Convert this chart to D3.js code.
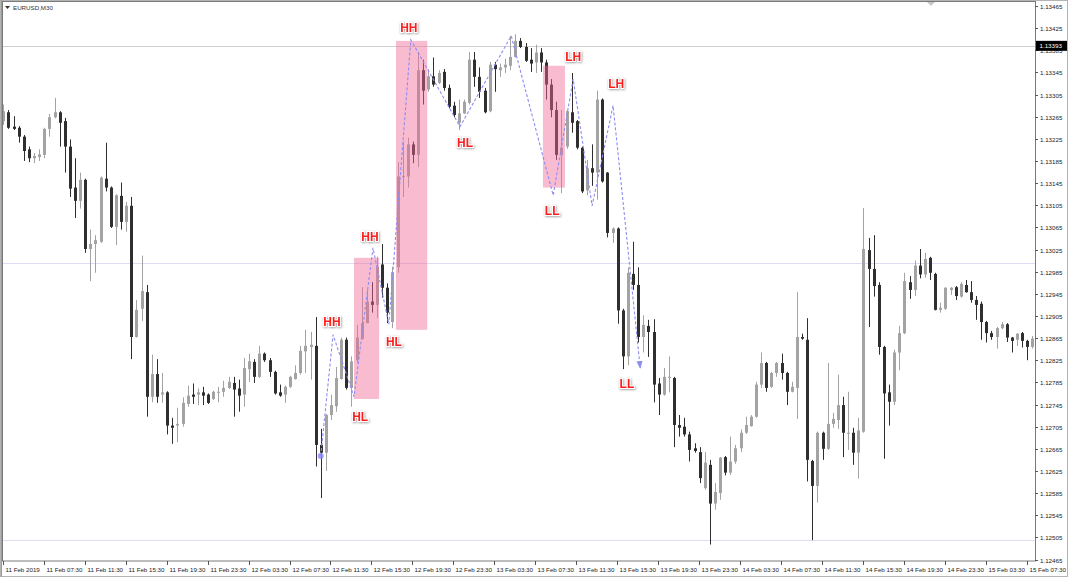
<!DOCTYPE html>
<html><head><meta charset="utf-8">
<script src="https://cdn.jsdelivr.net/npm/d3@7"></script>
<style>body{margin:0;background:#fff}svg{display:block}</style>
</head><body><svg id="c" width="1068" height="577"></svg>
<script>
const symbolTitle = "EURUSD,M30";
const open = [1.13257,1.13273,1.13247,1.13245,1.13229,1.13206,1.13190,1.13192,1.13196,1.13243,
1.13264,1.13273,1.13257,1.13211,1.13137,1.13113,1.13151,1.13026,1.13035,1.13039,
1.13153,1.13137,1.13066,1.13122,1.13075,1.13104,1.12867,1.12918,1.12948,1.12759,
1.12800,1.12763,1.12767,1.12707,1.12707,1.12710,1.12746,1.12763,1.12763,1.12767,
1.12763,1.12755,1.12767,1.12768,1.12775,1.12784,1.12774,1.12763,1.12809,1.12822,
1.12795,1.12837,1.12825,1.12804,1.12767,1.12763,1.12777,1.12791,1.12802,1.12841,
1.12849,1.12851,1.12672,1.12658,1.12726,1.12742,1.12791,1.12862,1.12775,1.12825,
1.12864,1.12892,1.12931,1.12925,1.12998,1.12956,1.12894,1.12993,1.13157,1.13157,
1.13215,1.13196,1.13349,1.13314,1.13338,1.13326,1.13346,1.13317,1.13285,1.13254,
1.13271,1.13290,1.13368,1.13337,1.13312,1.13275,1.13359,1.13349,1.13354,1.13357,
1.13373,1.13402,1.13391,1.13368,1.13363,1.13381,1.13363,1.13323,1.13277,1.13196,
1.13211,1.13273,1.13257,1.13209,1.13132,1.13172,1.13164,1.13296,1.13164,1.13055,
1.13063,1.12915,1.12832,1.12981,1.12961,1.12867,1.12887,1.12876,1.12783,1.12763,
1.12793,1.12793,1.12708,1.12705,1.12691,1.12666,1.12659,1.12594,1.12636,1.12566,
1.12585,1.12650,1.12622,1.12642,1.12666,1.12694,1.12706,1.12723,1.12781,1.12820,
1.12777,1.12802,1.12820,1.12802,1.12768,1.12775,1.12867,1.12862,1.12643,1.12598,
1.12694,1.12665,1.12710,1.12717,1.12744,1.12692,1.12694,1.12658,1.12696,1.13024,
1.12990,1.12961,1.12849,1.12767,1.12750,1.12839,1.12874,1.12966,1.12952,1.12996,
1.12980,1.13010,1.12981,1.12916,1.12918,1.12952,1.12957,1.12940,1.12961,1.12948,
1.12934,1.12927,1.12894,1.12874,1.12867,1.12883,1.12890,1.12866,1.12862,1.12874,
1.12860,1.12849];
const high = [1.13287,1.13277,1.13266,1.13248,1.13232,1.13211,1.13199,1.13206,1.13245,1.13270,
1.13299,1.13275,1.13263,1.13224,1.13190,1.13164,1.13153,1.13061,1.13051,1.13157,
1.13218,1.13139,1.13125,1.13146,1.13111,1.13120,1.12934,1.13014,1.12961,1.12835,
1.12827,1.12802,1.12769,1.12721,1.12739,1.12758,1.12779,1.12783,1.12774,1.12777,
1.12765,1.12770,1.12777,1.12788,1.12795,1.12795,1.12790,1.12829,1.12837,1.12827,
1.12851,1.12839,1.12829,1.12806,1.12781,1.12779,1.12797,1.12816,1.12851,1.12880,
1.12876,1.12903,1.12701,1.12728,1.12763,1.12813,1.12866,1.12866,1.12832,1.12889,
1.12957,1.12952,1.12966,1.13012,1.13035,1.12964,1.12994,1.13183,1.13220,1.13227,
1.13220,1.13382,1.13368,1.13351,1.13372,1.13349,1.13351,1.13323,1.13292,1.13296,
1.13296,1.13382,1.13382,1.13354,1.13317,1.13364,1.13364,1.13361,1.13370,1.13411,
1.13414,1.13407,1.13398,1.13389,1.13395,1.13389,1.13368,1.13333,1.13292,1.13277,
1.13277,1.13344,1.13259,1.13211,1.13187,1.13215,1.13312,1.13298,1.13165,1.13065,
1.13065,1.12918,1.12993,1.13039,1.12993,1.12906,1.12898,1.12899,1.12793,1.12811,
1.12832,1.12795,1.12726,1.12721,1.12696,1.12675,1.12668,1.12659,1.12645,1.12603,
1.12650,1.12652,1.12687,1.12672,1.12700,1.12723,1.12726,1.12786,1.12839,1.12822,
1.12804,1.12822,1.12837,1.12804,1.12786,1.12948,1.12873,1.12901,1.12645,1.12696,
1.12696,1.12820,1.12730,1.12799,1.12759,1.12768,1.12703,1.12721,1.13100,1.13046,
1.13051,1.12966,1.12851,1.12781,1.12844,1.12887,1.12983,1.12977,1.13005,1.13026,
1.13019,1.13012,1.12983,1.12929,1.12957,1.12957,1.12959,1.12966,1.12970,1.12968,
1.12941,1.12931,1.12896,1.12878,1.12885,1.12894,1.12892,1.12867,1.12874,1.12876,
1.12862,1.12869];
const low = [1.13250,1.13243,1.13241,1.13218,1.13185,1.13183,1.13181,1.13185,1.13190,1.13229,
1.13262,1.13211,1.13164,1.13120,1.13082,1.13099,1.13019,1.12968,1.12983,1.13037,
1.13130,1.13064,1.13033,1.13061,1.13057,1.12827,1.12866,1.12896,1.12723,1.12749,
1.12748,1.12748,1.12691,1.12674,1.12677,1.12705,1.12741,1.12746,1.12744,1.12744,
1.12746,1.12753,1.12749,1.12759,1.12773,1.12723,1.12732,1.12741,1.12786,1.12784,
1.12793,1.12822,1.12795,1.12763,1.12759,1.12748,1.12775,1.12790,1.12799,1.12802,
1.12790,1.12633,1.12576,1.12625,1.12717,1.12732,1.12790,1.12772,1.12741,1.12820,
1.12862,1.12892,1.12911,1.12901,1.12938,1.12892,1.12883,1.12983,1.13120,1.13137,
1.13181,1.13174,1.13287,1.13310,1.13319,1.13324,1.13312,1.13280,1.13264,1.13241,
1.13270,1.13287,1.13319,1.13299,1.13271,1.13273,1.13310,1.13337,1.13344,1.13349,
1.13372,1.13389,1.13364,1.13346,1.13344,1.13346,1.13296,1.13264,1.13187,1.13127,
1.13207,1.13236,1.13206,1.13127,1.13123,1.13140,1.13115,1.13146,1.13047,1.13037,
1.12891,1.12809,1.12816,1.12952,1.12857,1.12839,1.12831,1.12749,1.12726,1.12761,
1.12767,1.12668,1.12687,1.12687,1.12642,1.12658,1.12603,1.12591,1.12492,1.12555,
1.12573,1.12617,1.12618,1.12638,1.12659,1.12692,1.12705,1.12721,1.12775,1.12768,
1.12775,1.12795,1.12790,1.12744,1.12767,1.12719,1.12862,1.12606,1.12500,1.12568,
1.12645,1.12663,1.12703,1.12701,1.12650,1.12663,1.12636,1.12611,1.12694,1.12885,
1.12940,1.12835,1.12647,1.12707,1.12744,1.12807,1.12872,1.12936,1.12941,1.12973,
1.12974,1.12970,1.12915,1.12911,1.12916,1.12943,1.12934,1.12938,1.12947,1.12929,
1.12898,1.12862,1.12857,1.12862,1.12846,1.12881,1.12858,1.12839,1.12851,1.12848,
1.12825,1.12846];
const close = [1.13275,1.13245,1.13243,1.13229,1.13203,1.13190,1.13194,1.13197,1.13243,1.13264,
1.13273,1.13254,1.13211,1.13135,1.13113,1.13151,1.13026,1.13035,1.13042,1.13155,
1.13137,1.13066,1.13123,1.13075,1.13104,1.12867,1.12916,1.12950,1.12759,1.12800,
1.12759,1.12767,1.12707,1.12703,1.12710,1.12748,1.12761,1.12759,1.12767,1.12761,
1.12748,1.12768,1.12768,1.12775,1.12786,1.12772,1.12761,1.12811,1.12823,1.12795,
1.12837,1.12825,1.12804,1.12765,1.12761,1.12777,1.12795,1.12802,1.12842,1.12851,
1.12853,1.12672,1.12658,1.12726,1.12744,1.12793,1.12862,1.12775,1.12823,1.12866,
1.12892,1.12931,1.12925,1.12994,1.12956,1.12911,1.12984,1.13157,1.13158,1.13215,
1.13196,1.13349,1.13312,1.13338,1.13323,1.13344,1.13317,1.13283,1.13268,1.13271,
1.13292,1.13368,1.13337,1.13310,1.13273,1.13359,1.13351,1.13354,1.13359,1.13373,
1.13402,1.13391,1.13366,1.13361,1.13381,1.13363,1.13323,1.13277,1.13196,1.13209,
1.13275,1.13254,1.13209,1.13130,1.13172,1.13164,1.13296,1.13148,1.13055,1.13063,
1.12915,1.12832,1.12983,1.12961,1.12867,1.12889,1.12876,1.12781,1.12763,1.12795,
1.12795,1.12708,1.12703,1.12691,1.12663,1.12661,1.12612,1.12640,1.12566,1.12587,
1.12649,1.12622,1.12642,1.12666,1.12694,1.12708,1.12723,1.12781,1.12820,1.12775,
1.12802,1.12820,1.12802,1.12768,1.12777,1.12867,1.12864,1.12645,1.12598,1.12694,
1.12665,1.12710,1.12719,1.12744,1.12694,1.12694,1.12658,1.12698,1.13026,1.12990,
1.12959,1.12849,1.12765,1.12750,1.12839,1.12874,1.12968,1.12952,1.12996,1.12980,
1.13008,1.12983,1.12916,1.12920,1.12956,1.12956,1.12941,1.12963,1.12948,1.12934,
1.12925,1.12894,1.12874,1.12867,1.12883,1.12890,1.12866,1.12860,1.12873,1.12860,
1.12849,1.12864];

const priceTicks = ["1.13465","1.13425","1.13385","1.13345","1.13305","1.13265","1.13225","1.13185","1.13145","1.13105","1.13065","1.13025","1.12985","1.12945","1.12905","1.12865","1.12825","1.12785","1.12745","1.12705","1.12665","1.12625","1.12585","1.12545","1.12505","1.12465"];
const timeLabels = ["11 Feb 2019","11 Feb 07:30","11 Feb 11:30","11 Feb 15:30","11 Feb 19:30","11 Feb 23:30","12 Feb 03:30","12 Feb 07:30","12 Feb 11:30","12 Feb 15:30","12 Feb 19:30","12 Feb 23:30","13 Feb 03:30","13 Feb 07:30","13 Feb 11:30","13 Feb 15:30","13 Feb 19:30","13 Feb 23:30","14 Feb 03:30","14 Feb 07:30","14 Feb 11:30","14 Feb 15:30","14 Feb 19:30","14 Feb 23:30","15 Feb 03:30","15 Feb 07:30"];
const timeLabelBars = [0,8,16,24,32,40,48,56,64,72,80,88,96,104,112,120,128,136,144,152,160,168,176,184,192,200];

const hLevels = [1.13393, 1.13000, 1.12500];
const hColors = ["#cfcfcf", "#dcdcf4", "#dcdcf4"];
const currentPrice = "1.13393";

const zzBar = [62, 64.4, 68.5, 72.2, 75.3, 79.6, 89.2, 99.2, 107.4, 111.3, 115, 119.1, 124.4];
const zzPrice = [1.12652, 1.12871, 1.12759, 1.13028, 1.12890, 1.13404, 1.13247, 1.13411, 1.13123, 1.13333, 1.13104, 1.13285, 1.12811];

const boxStart = [68.5, 76.7, 105.4];
const boxEnd = [73.4, 82.8, 109.7];
const boxTop = [1.13010, 1.13402, 1.13357];
const boxBottom = [1.12755, 1.12880, 1.13137];

const labelText = ["HH","HL","HH","HL","HH","HL","LL","LH","LH","LL"];
const labelBar = [64.2, 69.7, 71.6, 76.3, 79.2, 90.2, 107.2, 111.3, 119.7, 121.8];
const labelPrice = [1.12894, 1.12723, 1.13049, 1.12858, 1.13426, 1.13218, 1.13095, 1.13373, 1.13324, 1.12783];

const svg = d3.select("#c");
const P = {l: 2, r: 1035, t: 2, b: 561};
const n = open.length;
const x = d3.scaleLinear().domain([0, n - 1]).range([3.3, 3.3 + 5.12 * (n - 1)]);
const y = d3.scaleLinear().domain([1.12465, 1.13465]).range([559.5, 6]);
const FONT = "'Liberation Sans', Arial, sans-serif";

svg.append("rect").attr("width", 1068).attr("height", 577).attr("fill", "#fff");
const defs = svg.append("defs");
defs.append("clipPath").attr("id", "clip").append("rect")
  .attr("x", P.l).attr("y", P.t).attr("width", P.r - P.l).attr("height", P.b - P.t);
const f = defs.append("filter").attr("id", "sh").attr("x", "-30%").attr("y", "-40%").attr("width", "160%").attr("height", "180%");
f.append("feDropShadow").attr("dx", 0.6).attr("dy", 0.8).attr("stdDeviation", 1.3).attr("flood-color", "#777").attr("flood-opacity", 0.75);
defs.append("marker").attr("id", "arr").attr("viewBox", "0 0 10 10").attr("refX", 9).attr("refY", 5)
  .attr("markerWidth", 7).attr("markerHeight", 7).attr("orient", "auto")
  .append("path").attr("d", "M0,1 L10,5 L0,9 z").attr("fill", "#8c8cf5");

const g = svg.append("g").attr("clip-path", "url(#clip)");

// horizontal lines
g.selectAll("line.h").data(hLevels).join("line").attr("class", "h")
  .attr("x1", P.l).attr("x2", P.r)
  .attr("y1", d => Math.round(y(d)) + 0.5).attr("y2", d => Math.round(y(d)) + 0.5)
  .attr("stroke", (d, i) => hColors[i]).attr("stroke-width", 1);

// candles
const idx = d3.range(n);
const bull = i => close[i] >= open[i];
const col = i => bull(i) ? "#a3a3a3" : "#2f2f2f";
g.selectAll("line.w").data(idx).join("line").attr("class", "w")
  .attr("x1", i => Math.round(x(i)) + 0.5).attr("x2", i => Math.round(x(i)) + 0.5)
  .attr("y1", i => y(high[i])).attr("y2", i => y(low[i]))
  .attr("stroke", col).attr("stroke-width", 1);
g.selectAll("rect.b").data(idx).join("rect").attr("class", "b")
  .attr("x", i => Math.round(x(i)) - 1)
  .attr("width", 3)
  .attr("y", i => y(Math.max(open[i], close[i])))
  .attr("height", i => Math.max(1, Math.abs(y(open[i]) - y(close[i]))))
  .attr("fill", col);

// pink boxes
g.selectAll("rect.box").data(d3.range(boxStart.length)).join("rect").attr("class", "box")
  .attr("x", i => x(boxStart[i])).attr("width", i => x(boxEnd[i]) - x(boxStart[i]))
  .attr("y", i => y(boxTop[i])).attr("height", i => y(boxBottom[i]) - y(boxTop[i]))
  .attr("fill", "rgb(239,104,148)").attr("fill-opacity", 0.45);

// zigzag
const zz = zzBar.map((b, i) => [x(b), y(zzPrice[i])]);
g.append("path").attr("d", d3.line()(zz)).attr("fill", "none")
  .attr("stroke", "#8c8cf5").attr("stroke-width", 1.1).attr("stroke-dasharray", "3,2")
  .attr("marker-end", "url(#arr)");
g.append("circle").attr("cx", zz[0][0]).attr("cy", zz[0][1]).attr("r", 3)
  .attr("fill", "#8c8cf5").attr("fill-opacity", 0.85);

// labels
g.selectAll("text.lab").data(d3.range(labelText.length)).join("text").attr("class", "lab")
  .attr("x", i => x(labelBar[i])).attr("y", i => y(labelPrice[i]))
  .attr("dy", "0.36em").attr("text-anchor", "middle")
  .attr("font-family", FONT).attr("font-weight", "bold").attr("font-size", 12)
  .attr("fill", "#ff1e1e").attr("stroke", "#fff").attr("stroke-width", 2).attr("paint-order", "stroke")
  .attr("filter", "url(#sh)")
  .text(i => labelText[i]);

// frame
svg.append("rect").attr("x", 0.5).attr("y", 0.5).attr("width", 1067).attr("height", 576)
  .attr("fill", "none").attr("stroke", "#b4b4b4");
svg.append("line").attr("x1", 1.5).attr("x2", 1.5).attr("y1", 0).attr("y2", 577).attr("stroke", "#9a9a9a");
svg.append("rect").attr("x", P.l + 0.5).attr("y", P.t - 0.5).attr("width", P.r - P.l).attr("height", P.b - P.t + 0.5)
  .attr("fill", "none").attr("stroke", "#7a7a7a");

// price axis
const pa = svg.append("g");
priceTicks.forEach(t => {
  const yy = Math.round(y(+t)) + 0.5;
  pa.append("line").attr("x1", P.r).attr("x2", P.r + 3).attr("y1", yy).attr("y2", yy).attr("stroke", "#555");
  pa.append("text").attr("x", P.r + 5).attr("y", yy).attr("dy", "0.35em")
    .attr("font-family", FONT).attr("font-size", 6.2).attr("fill", "#222").text(t);
});
// current price box
const cy = y(+currentPrice);
pa.append("rect").attr("x", P.r + 1).attr("y", cy - 5).attr("width", 31).attr("height", 10).attr("fill", "#000");
pa.append("text").attr("x", P.r + 4.5).attr("y", cy).attr("dy", "0.35em")
  .attr("font-family", FONT).attr("font-size", 6.2).attr("fill", "#fff").text(currentPrice);

// time axis
const ta = svg.append("g");
timeLabels.forEach((t, k) => {
  const xx = Math.round(x(timeLabelBars[k]) - 0.5) + 0.5;
  ta.append("line").attr("x1", xx).attr("x2", xx).attr("y1", P.b).attr("y2", P.b + 4).attr("stroke", "#555");
  ta.append("text").attr("x", xx + 2).attr("y", 571.5)
    .attr("font-family", FONT).attr("font-size", 6.2).attr("fill", "#222").text(t);
});

// title
svg.append("path").attr("d", "M5,6 L10,6 L7.5,9 z").attr("fill", "#333");
svg.append("text").attr("x", 13).attr("y", 10).attr("font-family", FONT).attr("font-size", 6.2).attr("fill", "#333").text(symbolTitle);
// chart shift marker
svg.append("path").attr("d", "M927,2 L935,2 L931,6 z").attr("fill", "#c8c8c8");
</script></body></html>
